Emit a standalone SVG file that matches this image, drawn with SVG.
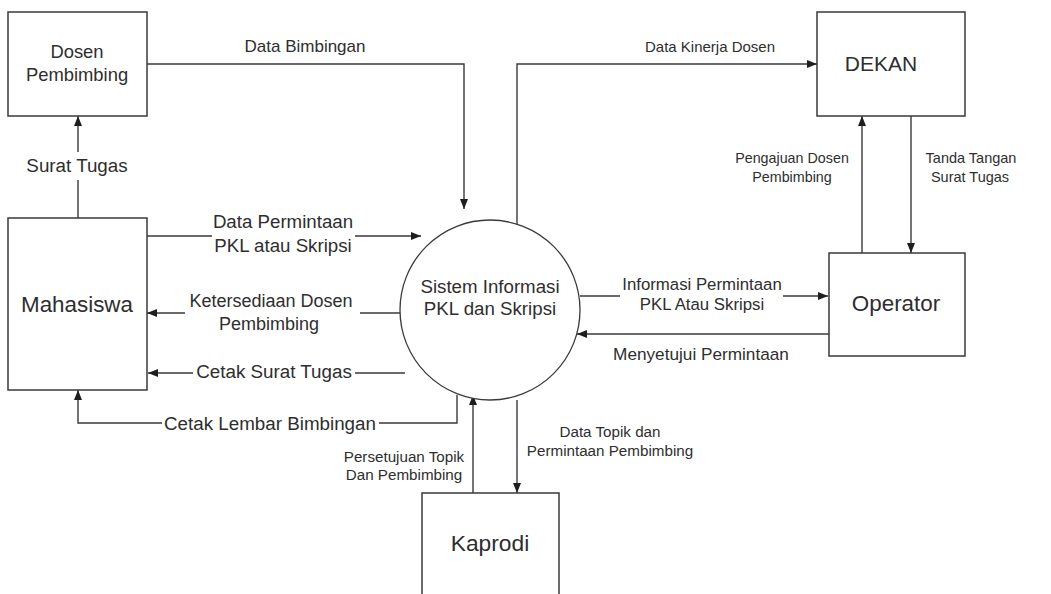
<svg xmlns="http://www.w3.org/2000/svg" width="1051" height="594" viewBox="0 0 1051 594">
<style>
.box{fill:#fff;stroke:#3a3a3a;stroke-width:1.5}
.ln{fill:none;stroke:#3a3a3a;stroke-width:1.4}
text{font-family:"Liberation Sans",Arial,sans-serif;fill:#2e2e2e;text-anchor:middle}
</style>
<defs>
<marker id="ah" markerUnits="userSpaceOnUse" markerWidth="10" markerHeight="10" viewBox="0 0 10 10" refX="10" refY="5" orient="auto">
<path d="M0,1 L10,5 L0,9 Z" fill="#1e1e1e"/>
</marker>
</defs>
<rect width="1051" height="594" fill="#fff"/>
<g id="connectors">
<path class="ln" d="M147,64 H464 V209" marker-end="url(#ah)"/>
<path class="ln" d="M78,218 V180 M78,152 V116" marker-end="url(#ah)"/>
<path class="ln" d="M517,224 V64 H817" marker-end="url(#ah)"/>
<path class="ln" d="M147,236 H212 M355,236 H421" marker-end="url(#ah)"/>
<path class="ln" d="M400,313 H360 M185,313 H147" marker-end="url(#ah)"/>
<path class="ln" d="M405,373 H355 M193,373 H148" marker-end="url(#ah)"/>
<path class="ln" d="M457,395 V423 H379 M162,423 H78 V390" marker-end="url(#ah)"/>
<path class="ln" d="M580,296 H620 M783,296 H828" marker-end="url(#ah)"/>
<path class="ln" d="M829,334 H577" marker-end="url(#ah)"/>
<path class="ln" d="M862,253 V116" marker-end="url(#ah)"/>
<path class="ln" d="M911,116 V253" marker-end="url(#ah)"/>
<path class="ln" d="M473,493 V395" marker-end="url(#ah)"/>
<path class="ln" d="M517,400 V493" marker-end="url(#ah)"/>
</g>
<g id="labels">
<text x="305" y="52" font-size="17">Data Bimbingan</text>
<text x="77" y="172" font-size="18.8">Surat Tugas</text>
<text x="710" y="52" font-size="15">Data Kinerja Dosen</text>
<text x="283" y="228" font-size="18.7">Data Permintaan</text>
<text x="283" y="252" font-size="18.7">PKL atau Skripsi</text>
<text x="271" y="307" font-size="18">Ketersediaan Dosen</text>
<text x="269" y="330" font-size="18">Pembimbing</text>
<text x="274" y="378" font-size="18.8">Cetak Surat Tugas</text>
<text x="270" y="430" font-size="18.8">Cetak Lembar Bimbingan</text>
<text x="702" y="290" font-size="16.8">Informasi Permintaan</text>
<text x="702" y="310" font-size="16.8">PKL Atau Skripsi</text>
<text x="701" y="360" font-size="17.2">Menyetujui Permintaan</text>
<text x="792" y="163" font-size="14.3">Pengajuan Dosen</text>
<text x="792" y="182" font-size="14.3">Pembimbing</text>
<text x="971" y="163" font-size="14.5">Tanda Tangan</text>
<text x="970" y="182" font-size="14.5">Surat Tugas</text>
<text x="610" y="437" font-size="15.2">Data Topik dan</text>
<text x="610" y="456" font-size="15.2">Permintaan Pembimbing</text>
<text x="404" y="462" font-size="15.2">Persetujuan Topik</text>
<text x="404" y="480" font-size="15.2">Dan Pembimbing</text>
</g>
<g id="dosen">
<rect class="box" x="8" y="12" width="139" height="104"/>
<text x="77" y="58" font-size="18.4">Dosen</text>
<text x="77" y="81" font-size="18.4">Pembimbing</text>
</g>
<g id="mahasiswa">
<rect class="box" x="8" y="218" width="139" height="172"/>
<text x="77" y="312" font-size="22.4">Mahasiswa</text>
</g>
<g id="sistem">
<circle cx="490" cy="310" r="90" fill="#fff" stroke="#3a3a3a" stroke-width="1.3"/>
<text x="490" y="293" font-size="18.7">Sistem Informasi</text>
<text x="490" y="315" font-size="18.7">PKL dan Skripsi</text>
</g>
<g id="dekan">
<rect class="box" x="817" y="12" width="148" height="104"/>
<text x="881" y="71" font-size="21">DEKAN</text>
</g>
<g id="operator">
<rect class="box" x="829" y="253" width="136" height="103"/>
<text x="896" y="311" font-size="22.4">Operator</text>
</g>
<g id="kaprodi">
<rect class="box" x="422" y="493" width="137" height="120"/>
<text x="490" y="551" font-size="22.8">Kaprodi</text>
</g>
</svg>
